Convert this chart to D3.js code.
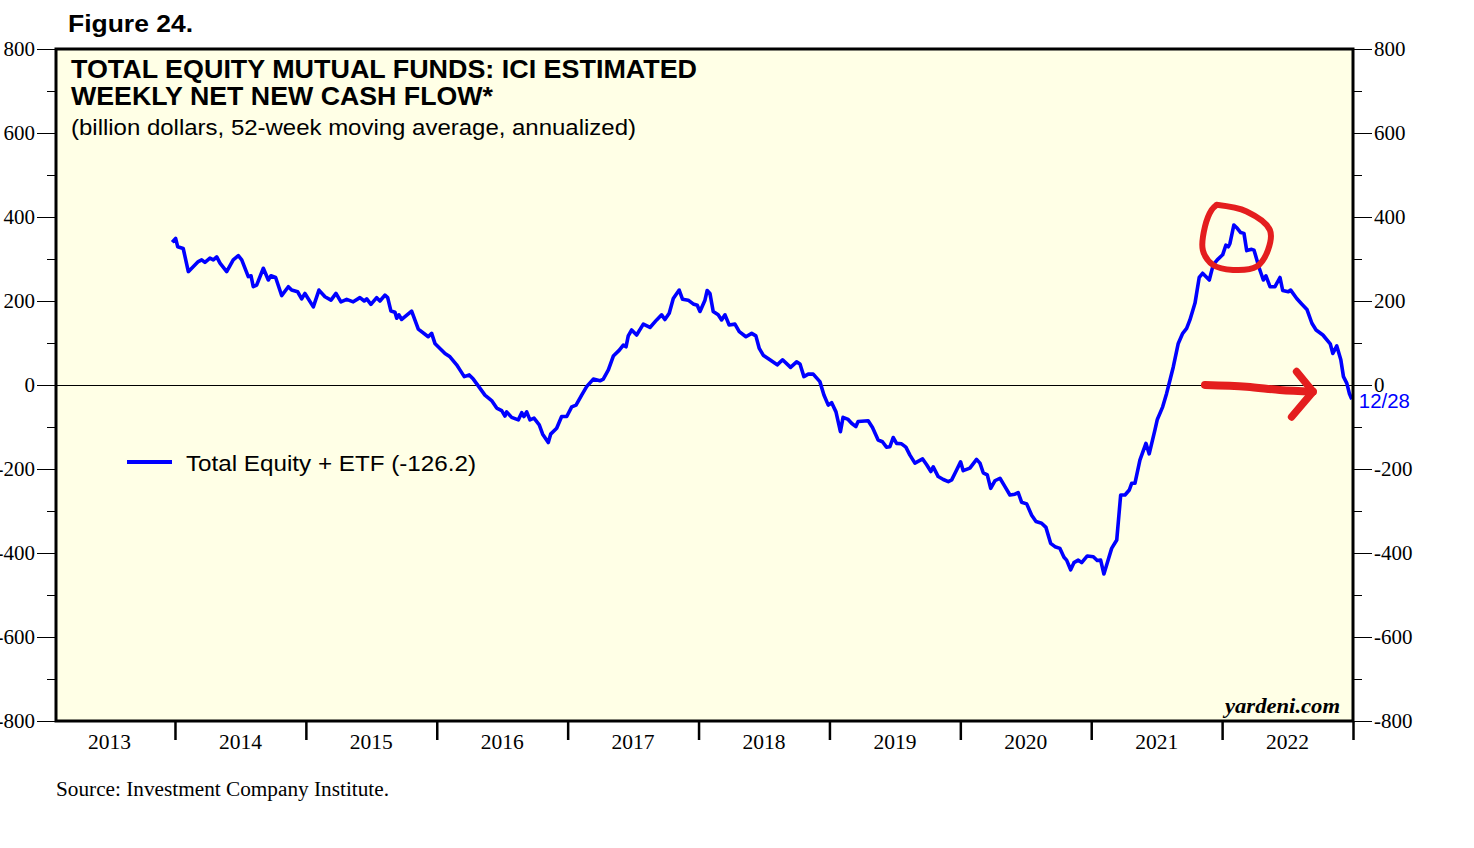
<!DOCTYPE html>
<html>
<head>
<meta charset="utf-8">
<script src="https://cdn.jsdelivr.net/npm/d3@7"></script>
<style>
  body { margin: 0; background: #fff; }
  svg { display: block; }
</style>
</head>
<body>
<svg id="chart" width="1474" height="848"></svg>
<script>
// weekly 52-week MA as (decimal year, billion $)
const dates = [
  2013.979, 2014.005, 2014.021, 2014.063, 2014.102, 2014.128, 2014.178, 2014.204, 2014.229, 2014.267,
  2014.293, 2014.319, 2014.344, 2014.395, 2014.445, 2014.484, 2014.510, 2014.560, 2014.581, 2014.598,
  2014.624, 2014.675, 2014.713, 2014.733, 2014.769, 2014.815, 2014.866, 2014.891, 2014.937, 2014.968,
  2014.993, 2015.057, 2015.100, 2015.146, 2015.192, 2015.230, 2015.268, 2015.312, 2015.362, 2015.413,
  2015.446, 2015.465, 2015.497, 2015.541, 2015.566, 2015.604, 2015.625, 2015.650, 2015.681, 2015.694,
  2015.711, 2015.732, 2015.808, 2015.859, 2015.935, 2015.961, 2015.986, 2016.063, 2016.101, 2016.152,
  2016.177, 2016.210, 2016.248, 2016.279, 2016.317, 2016.368, 2016.419, 2016.458, 2016.496, 2016.521,
  2016.534, 2016.572, 2016.623, 2016.649, 2016.666, 2016.687, 2016.712, 2016.743, 2016.783, 2016.809,
  2016.852, 2016.870, 2016.916, 2016.954, 2016.993, 2017.031, 2017.064, 2017.107, 2017.145, 2017.196,
  2017.247, 2017.272, 2017.311, 2017.349, 2017.395, 2017.425, 2017.446, 2017.463, 2017.489, 2017.527,
  2017.578, 2017.629, 2017.680, 2017.718, 2017.743, 2017.776, 2017.807, 2017.852, 2017.878, 2017.921,
  2017.959, 2017.990, 2018.011, 2018.049, 2018.066, 2018.087, 2018.112, 2018.150, 2018.176, 2018.202,
  2018.234, 2018.278, 2018.311, 2018.362, 2018.406, 2018.438, 2018.464, 2018.494, 2018.545, 2018.601,
  2018.642, 2018.703, 2018.749, 2018.775, 2018.805, 2018.838, 2018.876, 2018.927, 2018.958, 2018.991,
  2019.017, 2019.050, 2019.084, 2019.104, 2019.143, 2019.169, 2019.202, 2019.219, 2019.296, 2019.329,
  2019.372, 2019.405, 2019.436, 2019.462, 2019.487, 2019.513, 2019.551, 2019.584, 2019.615, 2019.653,
  2019.712, 2019.743, 2019.775, 2019.793, 2019.831, 2019.870, 2019.908, 2019.934, 2019.966, 2020.002,
  2020.022, 2020.073, 2020.124, 2020.150, 2020.175, 2020.206, 2020.232, 2020.264, 2020.303, 2020.341,
  2020.379, 2020.417, 2020.442, 2020.468, 2020.507, 2020.545, 2020.578, 2020.621, 2020.654, 2020.690,
  2020.723, 2020.761, 2020.792, 2020.812, 2020.843, 2020.868, 2020.901, 2020.927, 2020.970, 2021.016,
  2021.046, 2021.072, 2021.097, 2021.123, 2021.156, 2021.195, 2021.225, 2021.258, 2021.291, 2021.309,
  2021.334, 2021.372, 2021.418, 2021.443, 2021.487, 2021.505, 2021.546, 2021.576, 2021.602, 2021.627,
  2021.665, 2021.699, 2021.729, 2021.754, 2021.793, 2021.825, 2021.851, 2021.902, 2021.932, 2021.963,
  2022.004, 2022.029, 2022.047, 2022.060, 2022.090, 2022.116, 2022.142, 2022.167, 2022.188, 2022.226,
  2022.244, 2022.284, 2022.315, 2022.335, 2022.366, 2022.404, 2022.442, 2022.463, 2022.506, 2022.524,
  2022.570, 2022.608, 2022.648, 2022.686, 2022.718, 2022.770, 2022.826, 2022.846, 2022.876, 2022.907,
  2022.927, 2022.953, 2022.973, 2022.991
];
const flows = [
  340, 349, 329, 325, 270, 278, 294, 298, 292, 302,
  298, 305, 290, 270, 298, 308, 298, 258, 260, 234,
  238, 278, 250, 260, 256, 213, 234, 226, 222, 205,
  218, 186, 226, 210, 202, 218, 198, 204, 198, 208,
  200, 205, 192, 208, 200, 214, 208, 176, 173, 159,
  167, 156, 176, 133, 115, 123, 99, 75, 67, 48,
  36, 20, 24, 14, -2, -24, -37, -55, -61, -74,
  -64, -77, -83, -66, -75, -64, -83, -79, -95, -117,
  -137, -117, -103, -75, -75, -52, -48, -24, -4, 14,
  10, 14, 36, 69, 83, 95, 91, 117, 131, 119,
  145, 137, 155, 167, 156, 171, 206, 226, 204, 202,
  193, 190, 175, 202, 225, 218, 175, 167, 155, 167,
  143, 145, 127, 115, 123, 117, 87, 71, 60, 48,
  60, 42, 55, 50, 20, 26, 26, 8, -24, -48,
  -42, -64, -111, -77, -82, -91, -99, -87, -85, -101,
  -131, -135, -148, -147, -125, -139, -140, -148, -167, -186,
  -176, -190, -206, -195, -218, -225, -230, -226, -206, -183,
  -204, -198, -177, -186, -209, -214, -246, -228, -222, -242,
  -262, -260, -256, -279, -283, -310, -325, -329, -339, -377,
  -385, -389, -410, -417, -440, -423, -417, -423, -407, -409,
  -418, -417, -450, -423, -389, -369, -262, -262, -250, -234,
  -234, -179, -139, -164, -107, -82, -52, -20, 12, 43,
  99, 123, 135, 155, 195, 256, 266, 250, 286, 298,
  310, 333, 329, 337, 381, 373, 363, 361, 320, 323,
  321, 278, 250, 260, 234, 234, 256, 225, 222, 226,
  206, 193, 180, 147, 131, 119, 98, 75, 93, 60,
  20, 4, -21, -34
];

const yTicks = [-800, -600, -400, -200, 0, 200, 400, 600, 800];
const yMinorTicks = [-700, -500, -300, -100, 100, 300, 500, 700];
const yearBounds = [2014, 2015, 2016, 2017, 2018, 2019, 2020, 2021, 2022, 2023];
const yearLabels = ["2013", "2014", "2015", "2016", "2017", "2018", "2019", "2020", "2021", "2022"];

const seriesName = "Total Equity + ETF (-126.2)";
const lastDateLabel = "12/28";

// hand-drawn red marks, in data units
const circleDates = [2021.958, 2022.187, 2022.365, 2022.350, 2022.264, 2022.083, 2021.930, 2021.853, 2021.869, 2021.920, 2021.958];
const circleFlows = [429, 413, 369, 321, 282, 274, 286, 321, 377, 417, 429];
const arrowDates = [2021.869, 2022.187, 2022.441, 2022.694];
const arrowFlows = [0, -4, -12, -16];
const headDates = [2022.569, 2022.694, 2022.531];
const headFlows = [32, -16, -76];

const svg = d3.select('#chart');
const plotLeft = 56, plotRight = 1353, plotTop = 49, plotBottom = 721;

const x = d3.scaleLinear().domain([2013.091, 2023.0]).range([plotLeft, plotRight]);
const y = d3.scaleLinear().domain([-800, 800]).range([plotBottom, plotTop]);

const serif = '"Liberation Serif", "Times New Roman", serif';
const sans = '"Liberation Sans", Arial, sans-serif';
const plainNum = d => String(d);   // hyphen minus like the original

// background
svg.append('rect')
    .attr('x', plotLeft).attr('y', plotTop)
    .attr('width', plotRight - plotLeft).attr('height', plotBottom - plotTop)
    .attr('fill', '#FFFFE6');

// zero line
svg.append('line')
    .attr('x1', plotLeft).attr('x2', plotRight)
    .attr('y1', y(0)).attr('y2', y(0))
    .attr('stroke', '#000').attr('stroke-width', 1)
    .attr('shape-rendering', 'crispEdges');

// left axis
const leftAxis = d3.axisLeft(y).tickValues(yTicks).tickSize(19).tickPadding(2).tickFormat(plainNum);
const gl = svg.append('g').attr('transform', `translate(${plotLeft},0)`).call(leftAxis);
gl.select('.domain').remove();
gl.selectAll('text').style('font-family', serif).style('font-size', '21px').attr('fill', '#000');
const leftMinor = svg.append('g').attr('transform', `translate(${plotLeft},0)`)
    .call(d3.axisLeft(y).tickValues(yMinorTicks).tickSize(9).tickFormat(''));
leftMinor.select('.domain').remove();

// right axis
const rightAxis = d3.axisRight(y).tickValues(yTicks).tickSize(19).tickPadding(2).tickFormat(plainNum);
const gr = svg.append('g').attr('transform', `translate(${plotRight},0)`).call(rightAxis);
gr.select('.domain').remove();
gr.selectAll('text').style('font-family', serif).style('font-size', '21px').attr('fill', '#000');
const rightMinor = svg.append('g').attr('transform', `translate(${plotRight},0)`)
    .call(d3.axisRight(y).tickValues(yMinorTicks).tickSize(9).tickFormat(''));
rightMinor.select('.domain').remove();

// bottom axis: ticks on year boundaries, labels mid-year
const gb = svg.append('g').attr('transform', `translate(0,${plotBottom})`)
    .call(d3.axisBottom(x).tickValues(yearBounds).tickSize(19).tickFormat(''));
gb.select('.domain').remove();
gb.selectAll('line').attr('stroke-width', 2.5);
svg.append('g').selectAll('text')
    .data(yearLabels)
    .enter().append('text')
    .attr('x', d => x(+d + 0.5))
    .attr('y', 749)
    .attr('text-anchor', 'middle')
    .style('font-family', serif)
    .style('font-size', '21.5px')
    .text(d => d);

// series line
const pts = dates.map((d, i) => [d, flows[i]]);
const line = d3.line().x(d => x(d[0])).y(d => y(d[1]));
svg.append('path')
    .datum(pts)
    .attr('d', line)
    .attr('fill', 'none')
    .attr('stroke', '#0000FF')
    .attr('stroke-width', 3.6)
    .attr('stroke-linejoin', 'round');

// frame
svg.append('rect')
    .attr('x', plotLeft).attr('y', plotTop)
    .attr('width', plotRight - plotLeft).attr('height', plotBottom - plotTop)
    .attr('fill', 'none')
    .attr('stroke', '#000').attr('stroke-width', 3);

// red hand marks
const redLine = d3.line().x(d => x(d[0])).y(d => y(d[1])).curve(d3.curveCatmullRom);
svg.append('path')
    .datum(circleDates.map((d, i) => [d, circleFlows[i]]))
    .attr('d', redLine)
    .attr('fill', 'none').attr('stroke', '#E41E1E').attr('stroke-width', 6).attr('stroke-linecap', 'round');
svg.append('path')
    .datum(arrowDates.map((d, i) => [d, arrowFlows[i]]))
    .attr('d', redLine)
    .attr('fill', 'none').attr('stroke', '#E41E1E').attr('stroke-width', 8).attr('stroke-linecap', 'round');
svg.append('path')
    .datum(headDates.map((d, i) => [d, headFlows[i]]))
    .attr('d', d3.line().x(d => x(d[0])).y(d => y(d[1])))
    .attr('fill', 'none').attr('stroke', '#E41E1E').attr('stroke-width', 7.5)
    .attr('stroke-linecap', 'round').attr('stroke-linejoin', 'round');

// last value date label
svg.append('text')
    .attr('x', x(dates[dates.length - 1]) + 7)
    .attr('y', y(flows[flows.length - 1]) + 9)
    .attr('textLength', 51).attr('lengthAdjust', 'spacingAndGlyphs')
    .style('font-family', sans).style('font-size', '20px')
    .attr('fill', '#0000FF')
    .text(lastDateLabel);

// text helper with measured width
function label(xp, yp, txt, family, size, width, extra) {
    const t = svg.append('text').attr('x', xp).attr('y', yp)
        .style('font-family', family).style('font-size', size + 'px')
        .attr('textLength', width).attr('lengthAdjust', 'spacingAndGlyphs')
        .text(txt);
    if (extra) extra(t);
    return t;
}
const bold = t => t.style('font-weight', 'bold');

label(68, 32, 'Figure 24.', sans, 24, 125, bold);
label(71, 78, 'TOTAL EQUITY MUTUAL FUNDS: ICI ESTIMATED', sans, 25, 626, bold);
label(71, 105, 'WEEKLY NET NEW CASH FLOW*', sans, 25, 422, bold);
label(71, 135, '(billion dollars, 52-week moving average, annualized)', sans, 22, 565);

// legend
svg.append('line')
    .attr('x1', 127).attr('x2', 172).attr('y1', 462).attr('y2', 462)
    .attr('stroke', '#0000FF').attr('stroke-width', 4);
label(186, 471, seriesName, sans, 22, 290);

// watermark
label(1225, 713, 'yardeni.com', serif, 22, 115,
    t => t.style('font-weight', 'bold').style('font-style', 'italic'));

// source
label(56, 796, 'Source: Investment Company Institute.', serif, 20, 333);
</script>
</body>
</html>
